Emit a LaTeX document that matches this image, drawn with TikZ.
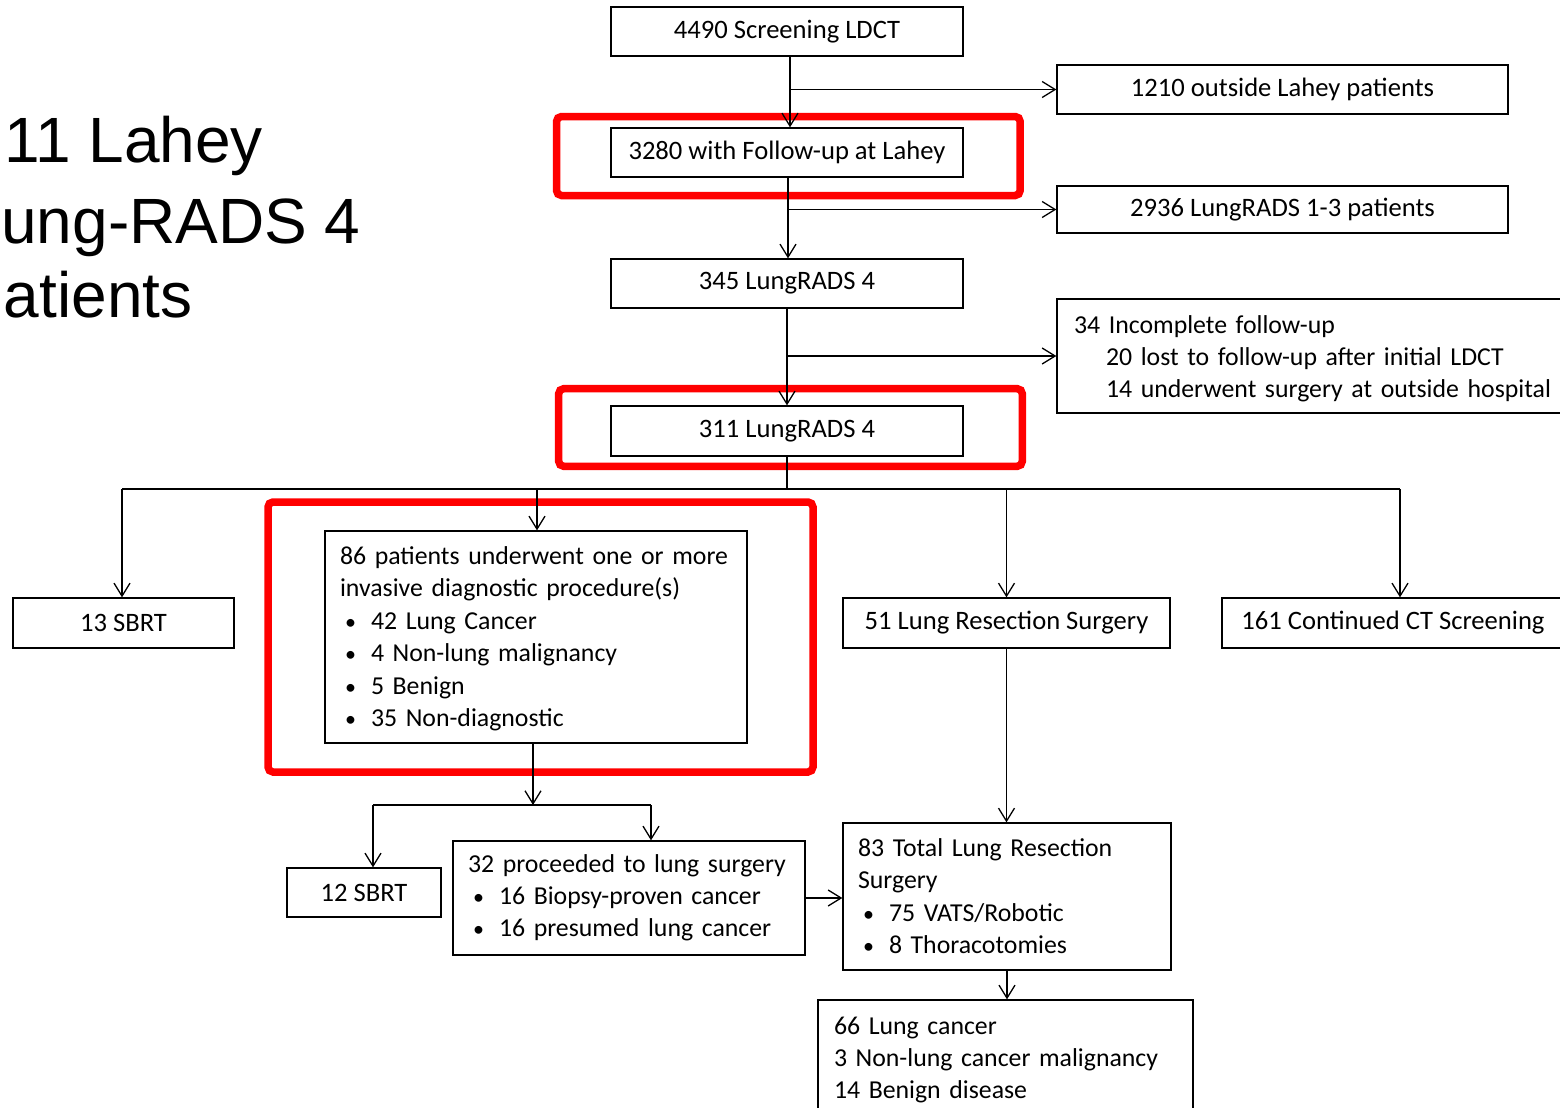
\documentclass[tikz,border=0pt]{standalone}
\usepackage{fontspec}
\setmainfont{Carlito}
\newfontfamily\bigsans{Liberation Sans}
\usetikzlibrary{positioning,arrows.meta}
\newcommand{\redframe}[2]{%
	\draw[red, line width=3.75pt, rounded corners=2.5pt] #1 rectangle #2;
}
\newcommand{\itm}[1]{\hspace*{2.5pt}\makebox[13pt][l]{\fontsize{11}{11}\selectfont\textbullet}#1}
\newcommand{\rows}[1]{\begin{tabular}{@{}l@{}}#1\end{tabular}}

\begin{document}
\begin{tikzpicture}[x=0.5pt, y=-0.5pt, font=\fontsize{13.3}{16.2}\selectfont,
	box/.style={draw, line width=0.65pt, inner xsep=7.5pt, inner ysep=0pt},
	lbox/.style={box, align=left, font=\fontsize{12.9}{16.2}\selectfont},
	arr/.style={-{Straight Barb[length=6.5pt,width=8pt]}, line width=0.65pt},
	link/.style={line width=0.65pt},
	big/.style={font=\bigsans\fontsize{32}{38}\selectfont, anchor=base west, inner sep=0pt}]
	\useasboundingbox (0,0) rectangle (1560,1108);
	
	%--- title on the left (cut by the slide edge) ---
	\node[big] (ttl1) at (4,162.7) {11 Lahey};
	\node[big] (ttl2) at (1,243.5) {ung-RADS 4};
	\node[big] (ttl3) at (3.5,317.7) {atients};
	
	%--- red highlight frames ---
	\redframe{(556.5,116.5)}{(1020.2,195.5)}
	\redframe{(558.7,388.7)}{(1022.3,466.3)}
	\redframe{(268,502)}{(813,772)}
	
	%--- screening column ---
	\node[box, minimum width=176pt, minimum height=24.5pt] (scr) at (787,31.5) {4490 Screening LDCT};
	\node[box, minimum width=225.5pt, minimum height=24.5pt] (outs) at (1282.5,89.5) {1210 outside Lahey patients};
	\node[box, minimum width=176pt, minimum height=24.5pt] (fup) at (787,152.5) {3280 with Follow-up at Lahey};
	\node[box, minimum width=225.5pt, minimum height=23.5pt] (lr13) at (1282.5,209.5) {2936 LungRADS 1-3 patients};
	\node[box, minimum width=176pt, minimum height=24.5pt] (lr4a) at (787,283.5) {345 LungRADS 4};
	\node[lbox, inner xsep=8.5pt, text width=244.5pt, minimum height=57pt] (inc) at (1318.5,356) {\raisebox{-1.5pt}[\height][\depth]{\rows{34 Incomplete follow-up\\
		\hspace*{16pt}20 lost to follow-up after initial LDCT\\
		\hspace*{16pt}14 underwent surgery at outside hospital}}};
	\node[box, minimum width=176pt, minimum height=25pt] (lr4b) at (787,431) {311 LungRADS 4};
	
	%--- first split ---
	\node[box, minimum width=110.5pt, minimum height=25pt] (sbrt13) at (123.5,623) {13 SBRT};
	\node[lbox, text width=196pt, minimum height=106pt] (inv) at (536,637) {\raisebox{-1pt}[\height][\depth]{\rows{86 patients underwent one or more\\
		invasive diagnostic procedure(s)\\
		\itm{42 Lung Cancer}\\
		\itm{4 Non-lung malignancy}\\
		\itm{5 Benign}\\
		\itm{35 Non-diagnostic}}}};
	\node[box, minimum width=163.5pt, minimum height=25pt] (res51) at (1006.5,623) {51 Lung Resection Surgery};
	\node[box, minimum width=171pt, minimum height=25pt] (ct161) at (1393,623) {161 Continued CT Screening};
	
	%--- after invasive procedures ---
	\node[box, minimum width=77pt, minimum height=24.5pt] (sbrt12) at (364,892.5) {12 SBRT};
	\node[lbox, text width=161pt, minimum height=57pt] (proc32) at (629,898) {\rows{32 proceeded to lung surgery\\
		\itm{16 Biopsy-proven cancer}\\
		\itm{16 presumed lung cancer}}};
	\node[lbox, text width=149pt, minimum height=73.5pt] (tot83) at (1007,896.5) {\raisebox{-1pt}[\height][\depth]{\rows{83 Total Lung Resection\\
		Surgery\\
		\itm{75 VATS/Robotic}\\
		\itm{8 Thoracotomies}}}};
	\node[lbox, inner xsep=8pt, text width=171.5pt, minimum height=60pt] (fin) at (1005.5,1060) {\rows{66 Lung cancer\\
		3 Non-lung cancer malignancy\\
		14 Benign disease}};
	
	%--- connectors ---
	\coordinate (split) at (787,489);
	\coordinate (split2) at (533,805);
	\draw[arr] ([xshift=1.5pt]scr.south) -- ([xshift=1.5pt]fup.north);
	\draw[arr] ([xshift=1.5pt]scr.south |- outs.west) -- (outs.west);
	\draw[arr] ([xshift=0.5pt]fup.south) -- ([xshift=0.5pt]lr4a.north);
	\draw[arr] ([xshift=0.5pt]fup.south |- lr13.west) -- (lr13.west);
	\draw[arr] (lr4a.south) -- (lr4b.north);
	\draw[arr] (lr4a.south |- inc.west) -- (inc.west);
	\draw[link] (lr4b.south) -- (split);
	\draw[link] ([xshift=-0.75pt]sbrt13.north |- split) -- ([xshift=3.5pt]ct161.north |- split);
	\foreach \n/\dx in {sbrt13/-0.75, inv/0.5, res51/0, ct161/3.5}{
		\draw[arr] ([xshift=\dx pt]\n.north |- split) -- ([xshift=\dx pt]\n.north);}
	\draw[arr] (inv.south -| split2) -- (split2);
	\draw[link] ([xshift=4.5pt]sbrt12.north |- split2) -- ([xshift=11pt]proc32.north |- split2);
	\draw[arr] ([xshift=4.5pt]sbrt12.north |- split2) -- ([xshift=4.5pt]sbrt12.north);
	\draw[arr] ([xshift=11pt]proc32.north |- split2) -- ([xshift=11pt]proc32.north);
	\draw[arr] (proc32.east) -- (proc32.east -| tot83.west);
	\draw[arr] (res51.south) -- (res51.south |- tot83.north);
	\draw[arr] (tot83.south) -- (tot83.south |- fin.north);
\end{tikzpicture}
\end{document}
